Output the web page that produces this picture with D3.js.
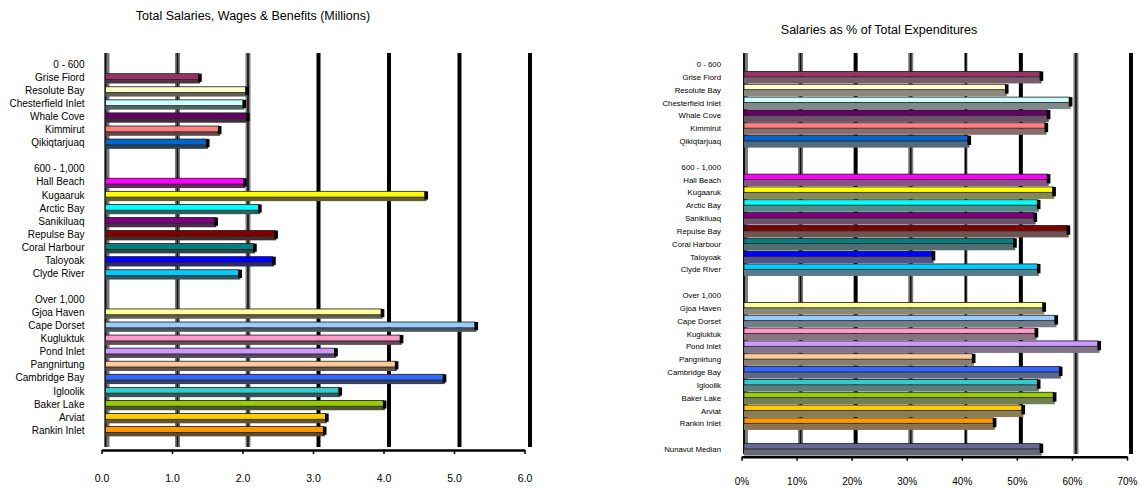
<!DOCTYPE html>
<html>
<head>
<meta charset="utf-8">
<script src="https://cdn.jsdelivr.net/npm/d3@7/dist/d3.min.js"></script>
<style>
  html, body { margin: 0; padding: 0; background: #fff; }
  svg { display: block; font-family: "Liberation Sans", Arial, sans-serif; }
</style>
</head>
<body>
<svg id="chart" width="1141" height="491"></svg>
<script>
// ---------------- DATA ----------------
const groupLabels = ["0 - 600", "600 - 1,000", "Over 1,000"];
const groupSmall = ["Grise Fiord", "Resolute Bay", "Chesterfield Inlet", "Whale Cove", "Kimmirut", "Qikiqtarjuaq"];
const groupMedium = ["Hall Beach", "Kugaaruk", "Arctic Bay", "Sanikiluaq", "Repulse Bay", "Coral Harbour", "Taloyoak", "Clyde River"];
const groupLarge = ["Gjoa Haven", "Cape Dorset", "Kugluktuk", "Pond Inlet", "Pangnirtung", "Cambridge Bay", "Igloolik", "Baker Lake", "Arviat", "Rankin Inlet"];

// Total Salaries, Wages & Benefits (Millions), in community order above
const salariesMillions = [
  1.30, 1.97, 1.93, 1.98, 1.58, 1.41,
  1.94, 4.51, 2.15, 1.53, 2.38, 2.08, 2.35, 1.87,
  3.89, 5.22, 4.16, 3.23, 4.09, 4.77, 3.29, 3.92, 3.10, 3.07
];
// Salaries as % of Total Expenditures
const salariesPct = [
  53.5, 47.2, 58.8, 54.8, 54.4, 40.4,
  54.8, 55.8, 53.0, 52.4, 58.4, 48.7, 33.9, 53.0,
  54.0, 56.2, 52.6, 64.0, 41.2, 57.0, 53.0, 55.9, 50.2, 45.0
];
const medianLabel = "Nunavut Median";
const medianPct = 53.5;

const communityColors = [
  "#993366", "#FFFFCC", "#CCFFFF", "#660066", "#FF8080", "#0066CC",
  "#FF00FF", "#FFFF00", "#00FFFF", "#800080", "#800000", "#008080", "#0000FF", "#00CCFF",
  "#FFFF99", "#99CCFF", "#FF99CC", "#CC99FF", "#FFCC99", "#3366FF", "#33CCCC", "#99CC00", "#FFCC00", "#FF9900"
];
const medianColor = "#666699";

const leftTicks = [0, 1, 2, 3, 4, 5, 6];
const rightTicks = [0, 10, 20, 30, 40, 50, 60, 70];

const leftTitle = "Total Salaries, Wages & Benefits  (Millions)";
const rightTitle = "Salaries as % of Total Expenditures";

// ---------------- BUILD ROWS ----------------
function buildRows(values, withMedian) {
  const rows = [];
  let k = 0;
  [groupSmall, groupMedium, groupLarge].forEach((g, gi) => {
    if (gi > 0) rows.push({ key: "blank" + gi, label: "", value: null });
    rows.push({ key: "hdr" + gi, label: groupLabels[gi], value: null });
    g.forEach(name => {
      rows.push({ key: name, label: name, value: values[k], color: communityColors[k] });
      k++;
    });
  });
  if (withMedian) {
    rows.push({ key: "blankM", label: "", value: null });
    rows.push({ key: medianLabel, label: medianLabel, value: medianPct, color: medianColor });
  }
  return rows;
}

const svg = d3.select("#chart");

function drawChart(cfg) {
  const g = svg.append("g");
  const rows = cfg.rows;
  const x = d3.scaleLinear().domain(cfg.domain).range(cfg.xRange);
  const y = d3.scaleBand().domain(rows.map(r => r.key)).range(cfg.yRange).paddingInner(0).paddingOuter(0);
  const bw = y.bandwidth();
  const dx = cfg.depth;
  const shade = c => {
    const dk = d3.interpolateRgb(c, "#000")(cfg.darkAmt);
    return d3.interpolateRgb(dk, cfg.greyTone)(cfg.greyAmt);
  };

  // title
  g.append("text")
    .attr("x", cfg.titleX).attr("y", cfg.titleY)
    .attr("text-anchor", "middle")
    .attr("font-size", cfg.titleSize)
    .attr("fill", "#000")
    .text(cfg.title);

  // gridlines (back wall)
  cfg.ticks.forEach((t, i) => {
    const gx = x(t) + dx;
    const st = cfg.gridStyles[i];
    if (st === "grey" || st === "wall") {
      g.append("line").attr("x1", gx).attr("x2", gx).attr("y1", cfg.gridTop).attr("y2", cfg.gridBottom)
        .attr("stroke", "#7a7a7a").attr("stroke-width", 5);
      const off = st === "wall" ? -1.5 : 0;
      g.append("line").attr("x1", gx + off).attr("x2", gx + off)
        .attr("y1", cfg.gridTop).attr("y2", cfg.gridBottom)
        .attr("stroke", "#111").attr("stroke-width", st === "wall" ? 2 : 1.6);
    } else if (st === "thin") {
      g.append("line").attr("x1", gx).attr("x2", gx).attr("y1", cfg.gridTop).attr("y2", cfg.gridBottom)
        .attr("stroke", "#8a8a8a").attr("stroke-width", 3.5);
      g.append("line").attr("x1", gx).attr("x2", gx).attr("y1", cfg.gridTop).attr("y2", cfg.gridBottom)
        .attr("stroke", "#000").attr("stroke-width", 1.8);
    } else {
      g.append("line").attr("x1", gx).attr("x2", gx).attr("y1", cfg.gridTop).attr("y2", cfg.gridBottom)
        .attr("stroke", "#000").attr("stroke-width", 4);
    }
  });

  // bars
  const x0 = x(0) + dx - 1.5;
  rows.filter(r => r.value != null).forEach(r => {
    const cy = y(r.key) + bw / 2 + cfg.barShift;
    const xe = x(r.value) + dx;
    const top = cy - cfg.faceH / 2;
    // lower (side) face
    g.append("rect")
      .attr("x", x0).attr("y", top + cfg.faceH)
      .attr("width", Math.max(0, xe - x0 + 1.5)).attr("height", cfg.sideH)
      .attr("fill", shade(r.color));
    // front face
    g.append("rect")
      .attr("x", x0).attr("y", top)
      .attr("width", Math.max(0, xe - x0)).attr("height", cfg.faceH)
      .attr("fill", r.color)
      .attr("stroke", "#1a1a1a").attr("stroke-width", 0.8);
    // end cap
    g.append("rect")
      .attr("x", xe - 0.5).attr("y", top)
      .attr("width", 3.6).attr("height", cfg.faceH + cfg.sideH * 0.6)
      .attr("fill", "#000");
  });

  // category labels
  g.selectAll("text.lab").data(rows.filter(r => r.label !== "")).enter()
    .append("text").attr("class", "lab")
    .attr("x", cfg.labelX)
    .attr("y", r => y(r.key) + bw / 2)
    .attr("dy", "0.35em")
    .attr("text-anchor", "end")
    .attr("font-size", cfg.labelSize)
    .attr("fill", "#000")
    .text(r => r.label);

  // x axis
  const axis = d3.axisBottom(x)
    .tickValues(cfg.ticks)
    .tickSize(4)
    .tickSizeOuter(0)
    .tickPadding(cfg.tickPadding)
    .tickFormat(cfg.tickFormat);
  const ag = g.append("g").attr("transform", `translate(0,${cfg.axisY})`).call(axis);
  ag.select(".domain").attr("stroke", "#000").attr("stroke-width", 2.5);
  ag.selectAll(".tick line").attr("stroke", "#000").attr("stroke-width", 1.5);
  ag.selectAll(".tick text")
    .attr("font-size", cfg.tickSize)
    .attr("font-family", "Liberation Sans, Arial, sans-serif")
    .attr("fill", "#000");
}

drawChart({
  rows: buildRows(salariesMillions, false),
  domain: [0, 6],
  xRange: [101.5, 524.5],
  yRange: [57.8, 436.8],
  depth: 5.5,
  barShift: -0.8,
  faceH: 5.8, sideH: 4,
  darkAmt: 0.55, greyTone: "#505050", greyAmt: 0.55,
  ticks: leftTicks,
  gridStyles: ["wall", "grey", "grey", "black", "black", "black", "black"],
  gridTop: 53, gridBottom: 447,
  axisY: 450,
  tickPadding: 21,
  tickSize: 10.5,
  tickFormat: d3.format(".1f"),
  labelX: 84.5,
  labelSize: 10,
  title: leftTitle, titleX: 253, titleY: 20, titleSize: 12.5
});

drawChart({
  rows: buildRows(salariesPct, true),
  domain: [0, 70],
  xRange: [741.5, 1127],
  yRange: [57.9, 455.7],
  depth: 4,
  barShift: -3,
  faceH: 5.4, sideH: 6.6,
  darkAmt: 0.4, greyTone: "#808080", greyAmt: 0.65,
  ticks: rightTicks,
  gridStyles: ["wall", "grey", "black", "grey", "thin", "black", "grey", "black"],
  gridTop: 53, gridBottom: 454,
  axisY: 456.7,
  tickPadding: 17.5,
  tickSize: 10,
  tickFormat: d => d + "%",
  labelX: 721,
  labelSize: 7.8,
  title: rightTitle, titleX: 879, titleY: 34, titleSize: 12.5
});
</script>
</body>
</html>
